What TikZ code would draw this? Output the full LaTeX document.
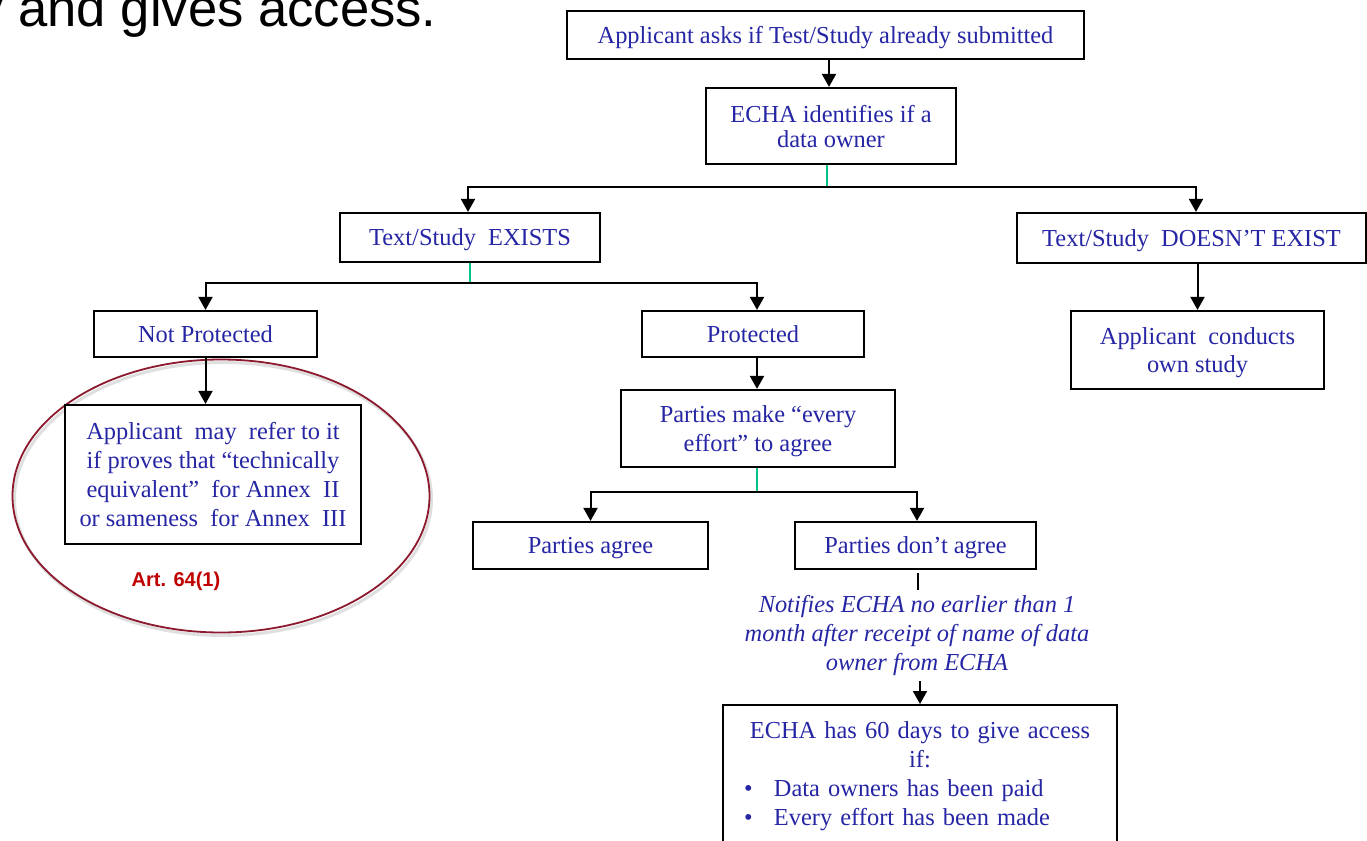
\documentclass[tikz,border=0pt]{standalone}
\usepackage{fontspec}
\setmainfont{Liberation Serif}
\newfontfamily\arialf{Liberation Sans}
\usetikzlibrary{arrows.meta,calc}
\definecolor{txtblue}{RGB}{38,38,165}
\definecolor{tealc}{RGB}{0,195,140}
\definecolor{ellred}{RGB}{140,25,45}
\definecolor{artred}{RGB}{192,0,0}
\tikzset{
  boxbase/.style={draw=black, line width=1.1pt, fill=white, inner sep=0pt, align=center,
    text=txtblue, font=\fontsize{12.2}{14.6}\selectfont},
  box/.style={boxbase, text depth=0pt},
  line/.style={draw=black, line width=1pt},
  arr/.style={line, -{Triangle[width=7pt,length=6.5pt]}},
  tealline/.style={draw=tealc, line width=1pt},
}
\begin{document}
\begin{tikzpicture}[x=0.5pt,y=-0.5pt]
\useasboundingbox (0,0) rectangle (1367,841);
\fill[white] (0,0) rectangle (1367,841);

% heading fragment
\node[anchor=base east, inner sep=0pt, font=\arialf\fontsize{26.3}{30}\selectfont] (head) at (437,26) {y and gives access.};

% ellipse
\draw[gray!25, line width=1.5pt] (223,499) ellipse [x radius=104.25pt, y radius=68.25pt];
\draw[ellred, line width=0.9pt] (221,496) ellipse [x radius=104.25pt, y radius=68.25pt];
\node[font=\arialf\bfseries\fontsize{10}{12}\selectfont, text=artred, inner sep=0pt] (art) at (176,581) {Art. 64(1)};

% boxes
\node[box, minimum width=258.5pt, minimum height=24pt] (top) at (825.5,35) {Applicant asks if Test/Study already submitted};
\node[box, minimum width=125pt, minimum height=38pt, font=\fontsize{12.2}{12.5}\selectfont] (echa) at (831,126) {ECHA identifies if a\\data owner};
\node[box, minimum width=130pt, minimum height=24.5pt] (exists) at (470,237.5) {Text/Study \ EXISTS};
\node[box, minimum width=174.5pt, minimum height=25pt] (noexist) at (1191.5,238) {Text/Study \ DOESN’T EXIST};
\node[box, minimum width=111.5pt, minimum height=23pt] (notprot) at (205.5,334) {Not Protected};
\node[box, minimum width=111pt, minimum height=23pt] (prot) at (753,334) {Protected};
\node[box, minimum width=126.5pt, minimum height=39pt, font=\fontsize{12.2}{14}\selectfont] (conduct) at (1197.5,350) {Applicant \ conducts\\own study};
\node[box, minimum width=148pt, minimum height=69.5pt] (refer) at (213,474.5) {Applicant \ may \ refer to it\\if proves that “technically\\equivalent” \ for Annex \ II\\or sameness \ for Annex \ III};
\node[box, minimum width=137pt, minimum height=38.5pt, font=\fontsize{12.2}{14.5}\selectfont] (effort) at (758,428.5) {Parties make “every\\effort” to agree};
\node[box, minimum width=117.5pt, minimum height=23.5pt] (agree) at (590.5,545.5) {Parties agree};
\node[box, minimum width=120.5pt, minimum height=23.5pt] (disagree) at (915.5,545.5) {Parties don’t agree};
\node[anchor=north, inner xsep=1pt, inner ysep=2.5pt, align=center, text=txtblue, font=\itshape\fontsize{12.2}{14.5}\selectfont] (notify) at (917,590) {Notifies ECHA no earlier than 1\\month after receipt of name of data\\owner from ECHA};
\node[boxbase, anchor=north, text width=197pt, inner xsep=0pt, inner ysep=8.2pt, font=\fontsize{12.2}{14.5}\selectfont] (final) at (920,704)
  {\centering ECHA has 60 days to give access\\if:\par
   \raggedright\makebox[25.5pt][l]{\hspace*{10.5pt}•}Data owners has been paid\\
   \makebox[25.5pt][l]{\hspace*{10.5pt}•}Every effort has been made\par
   \vspace{20pt}\mbox{}};

% connectors
\coordinate (j1) at (827,187);
\coordinate (j2) at (470,283);
\coordinate (j3) at (757,492);
\draw[arr] ($(top.south -| j1)+(2,0)$) -- ($(echa.north -| j1)+(2,0)$);
\draw[tealline] (echa.south -| j1) -- (j1);
\draw[arr] (j1) -| ([xshift=-1pt]exists.north);
\draw[arr] (j1) -| ([xshift=2.25pt]noexist.north);
\draw[tealline] (exists.south) -- (j2);
\draw[arr] (j2) -| (notprot.north);
\draw[arr] (j2) -| ([xshift=2pt]prot.north);
\draw[arr] (noexist.south -| conduct.north) -- (conduct.north);
\draw[arr] (notprot.south) -- (notprot.south |- refer.north);
\draw[arr] ([xshift=2pt]prot.south) -- ([xshift=2pt]prot.south |- effort.north);
\draw[tealline] (effort.south -| j3) -- (j3);
\draw[arr] (j3) -| (agree.north);
\draw[arr] (j3) -| ([xshift=0.75pt]disagree.north);
\coordinate (d1) at ([xshift=1.25pt,yshift=-1.5pt]disagree.south);
\draw[line] (d1) -- (d1 |- notify.north);
\draw[arr] (notify.south -| final.north) -- (final.north);
\end{tikzpicture}
\end{document}
